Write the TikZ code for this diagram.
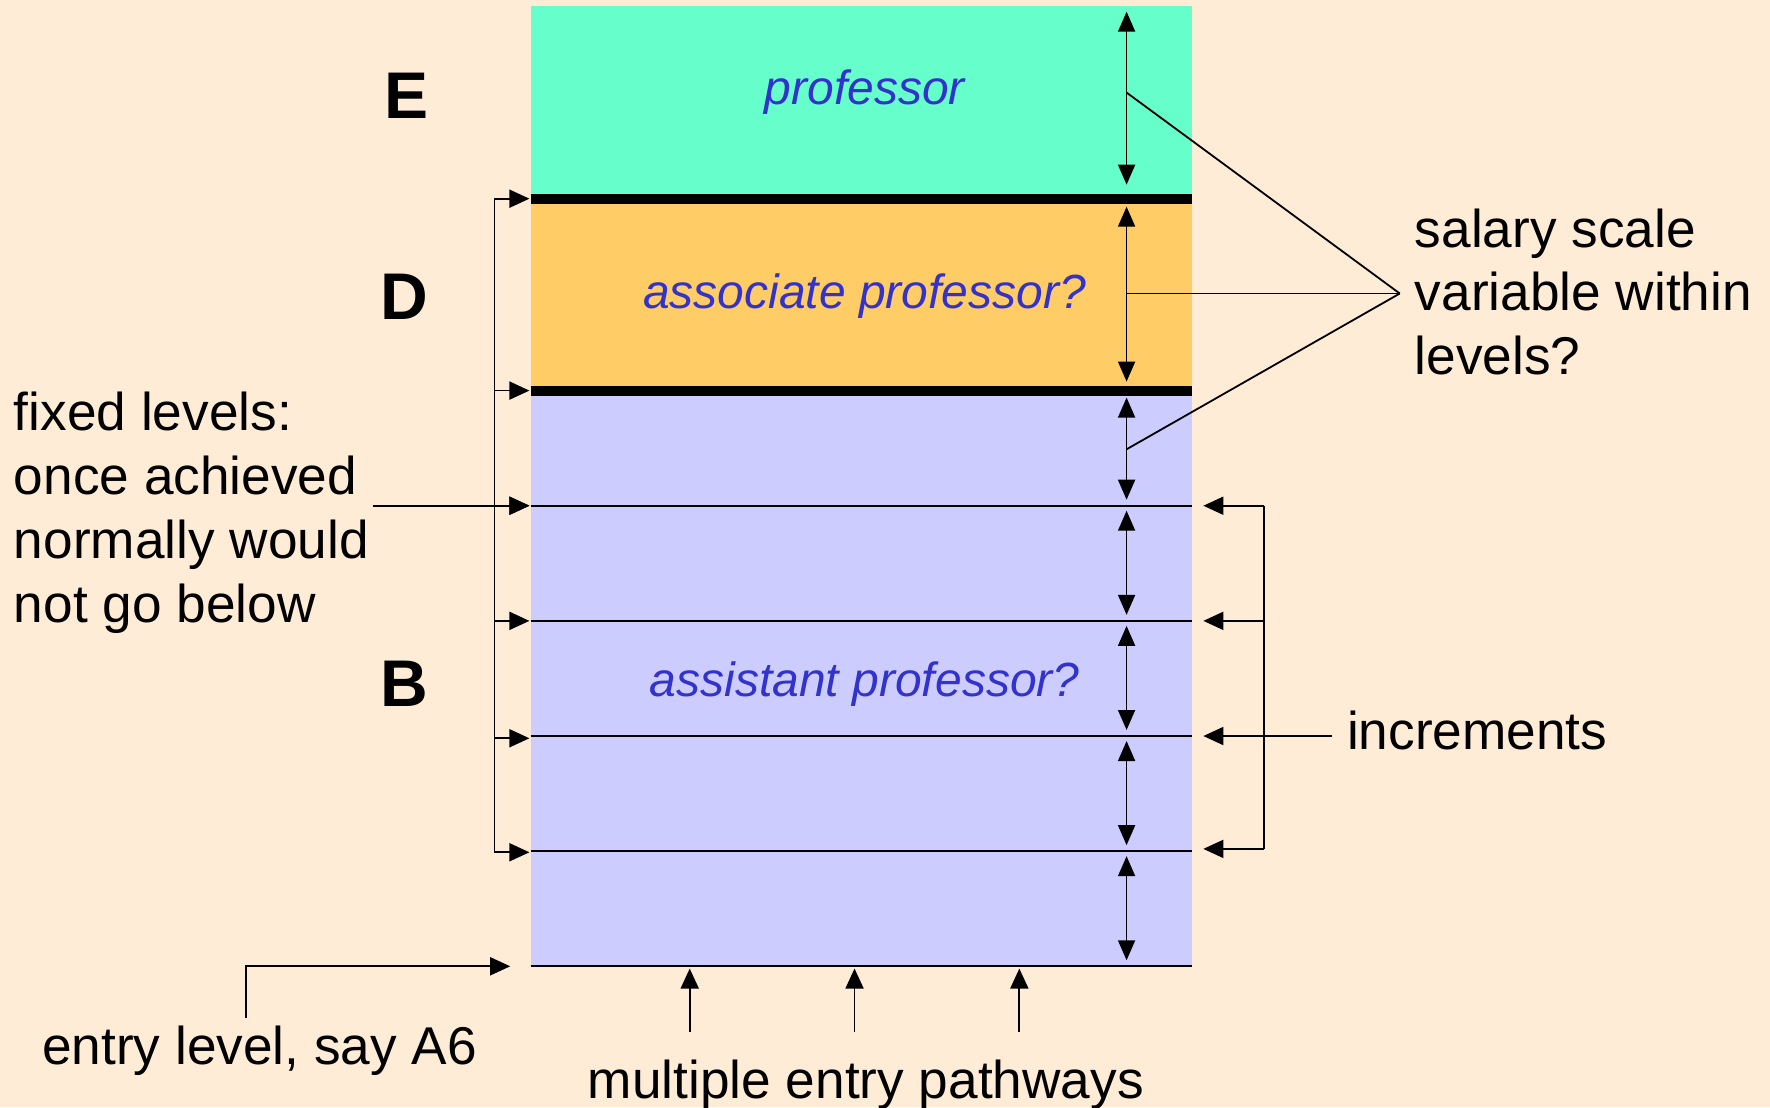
\documentclass[tikz,border=0pt]{standalone}
\usepackage{fontspec}
\setmainfont{Liberation Sans}
\usetikzlibrary{arrows.meta}
\definecolor{bgpeach}{RGB}{255,236,214}
\definecolor{profgreen}{RGB}{102,255,204}
\definecolor{assocorange}{RGB}{255,204,102}
\definecolor{assistlav}{RGB}{204,204,255}
\definecolor{rankblue}{RGB}{51,51,204}

\begin{document}
\begin{tikzpicture}[x=0.5644pt,y=-0.5644pt,
  conn/.style={line width=0.9pt},
  tip/.style={conn,-{Triangle[length=10pt,width=9pt]}},
  dbl/.style={conn,{Triangle[length=10pt,width=8.5pt]}-{Triangle[length=10pt,width=8.5pt]}},
  lbl/.style={font=\fontsize{26.6}{31.9}\selectfont, inner sep=0pt},
  grade/.style={font=\fontsize{33}{40}\selectfont\bfseries, inner sep=0pt},
  rank/.style={font=\fontsize{24}{29}\selectfont\itshape, text=rankblue, inner sep=0pt},
  boundary/.style={line width=5pt},
]
% page background
\fill[bgpeach] (0,0) rectangle (1568,981);
\useasboundingbox (0,0) rectangle (1568,981);

% salary bands
\fill[profgreen]   (470,5)   rectangle (1056,176);
\fill[assocorange] (470,176) rectangle (1056,346);
\fill[assistlav]   (470,346) rectangle (1056,856);

% level boundaries: left end (l), right end (r), scale column (s)
\foreach \n/\y in {1/176,2/346,3/448,4/550,5/652,6/754,7/856}{
  \coordinate (l\n) at (470,\y);
  \coordinate (r\n) at (1056,\y);
  \coordinate (s\n) at (998,\y);
}
\coordinate (s0) at (998,5);

\draw[boundary] (l1) -- (r1);
\draw[boundary] (l2) -- (r2);
\foreach \n in {3,...,7}{ \draw[conn] (l\n) -- (r\n); }

% variable range within each level / increment
\draw[dbl, shorten <=3pt, shorten >=7pt] (s0) -- (s1);
\draw[dbl, shorten <=4pt, shorten >=4.5pt] (s1) -- (s2);
\draw[dbl, shorten <=3.5pt, shorten >=3pt] (s2) -- (s3);
\foreach \a/\b in {3/4,4/5,5/6,6/7}{
  \draw[dbl, shorten <=2.5pt, shorten >=3pt] (s\a) -- (s\b);
}

% grade letters and ranks
\node[grade, anchor=base] (gE) at (360,105) {E};
\node[grade, anchor=base] (gD) at (358,283) {D};
\node[grade, anchor=base] (gB) at (358,626) {B};
\node[rank, anchor=base] (prof)   at (766,93)  {professor};
\node[rank, anchor=base] (assoc)  at (766,273) {associate professor?};
\node[rank, anchor=base] (assist) at (766,617) {assistant professor?};

% salary scale annotation (base = baseline of the last line)
\node[lbl, anchor=base west, align=left] (sal) at (1253,332)
  {salary scale\\variable within\\levels?};
\coordinate (hub) at (1240,260);
\coordinate (mE) at (998,82);
\coordinate (mD) at (998,260);
\coordinate (mB) at (998,398);
\draw[conn] (hub) -- (mE);
\draw[conn] (hub) -- (mD);
\draw[conn] (hub) -- (mB);

% fixed levels bracket
\node[lbl, anchor=base west, align=left] (fix) at (12,551)
  {fixed levels:\\once achieved\\normally would\\not go below};
\foreach \n/\y in {1/176,2/346,3/448,4/550,5/654,6/755}{
  \coordinate (bk\n) at (438,\y);
  \coordinate (bt\n) at (469,\y);
}
\draw[conn] (bk1) -- (bk6);
\foreach \n in {1,...,6}{ \draw[tip] (bk\n) -- (bt\n); }
\coordinate (fixlead) at (330,448);
\draw[tip] (fixlead) -- (bt3);

% increments bracket
\node[lbl, anchor=base west] (inc) at (1193,664) {increments};
\foreach \n/\y in {1/448,2/550,3/652,4/752}{
  \coordinate (ib\n) at (1120,\y);
  \coordinate (it\n) at (1066,\y);
}
\draw[conn] (ib1) -- (ib4);
\foreach \n in {1,...,4}{ \draw[tip] (ib\n) -- (it\n); }
\coordinate (inclead) at (1180,652);
\draw[conn] (inclead) -- (ib3);

% entry level
\node[lbl, anchor=base] (entry) at (230,943) {entry level, say A6};
\coordinate (ec) at (218,902);
\coordinate (et) at (452,856);
\draw[tip] (ec) |- (et);

% multiple entry pathways
\node[lbl, anchor=base] (multi) at (767,973) {multiple entry pathways};
\foreach \n/\x in {1/611,2/757,3/903}{
  \coordinate (pf\n) at (\x,914);
  \coordinate (pt\n) at (\x,858);
  \draw[tip] (pf\n) -- (pt\n);
}
\end{tikzpicture}
\end{document}
